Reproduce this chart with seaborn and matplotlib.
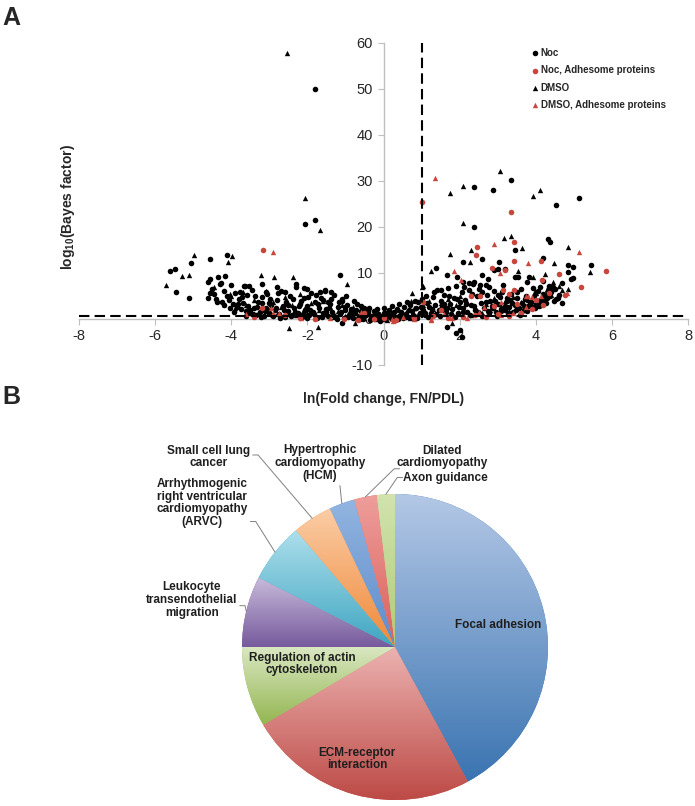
import numpy as np
import matplotlib
matplotlib.use('Agg')
import matplotlib.pyplot as plt
import seaborn as sns
from matplotlib.colors import LinearSegmentedColormap

sns.set_style('white')
plt.rcParams['font.family'] = ['Liberation Sans', 'DejaVu Sans']
plt.rcParams['mathtext.fontset'] = 'custom'
plt.rcParams['mathtext.rm'] = 'Liberation Sans'
plt.rcParams['mathtext.bf'] = 'Liberation Sans:bold'
plt.rcParams['axes.unicode_minus'] = False

# ---- panel A data: (ln fold change, log10 Bayes factor) ----
noc_pts = [
    (-1.79, 50.0), (-2.05, 20.6), (-1.81, 21.5), (-4.56, 13.0), (-4.12, 13.9), (-5.07, 12.1),
    (-5.49, 10.9), (-5.6, 10.4), (-5.45, 5.9), (-5.11, 4.6), (-4.57, 8.7), (-4.35, 9.1),
    (-4.16, 9.3), (-4.26, 7.8), (-3.66, 7.2), (-3.53, 7.2), (-3.78, 5.9), (-3.1, 5.9),
    (-2.79, 7.0), (-2.29, 7.6), (-2.1, 6.7), (-4.57, 5.6), (-4.6, 4.6), (-4.37, 3.7),
    (-4.2, 3.0), (-3.2, 7.6), (-1.13, 9.6), (-1.66, 5.9), (-1.53, 6.1), (-1.39, 5.9),
    (-1.45, 3.7), (-1.08, 4.3), (-2.0, 6.5), (-1.1, -0.8),
    (2.39, 28.6), (2.87, 28.0), (3.36, 30.2), (4.53, 24.8), (5.13, 26.3), (2.37, 20.0),
    (3.45, 15.0), (4.32, 17.4), (4.37, 16.7), (4.2, 13.2), (5.45, 11.7), (4.86, 11.7),
    (4.97, 11.3), (4.84, 10.2), (4.97, 8.9), (4.93, 8.6), (4.68, 3.5), (3.76, 8.0),
    (3.82, 9.1), (4.2, 8.3), (4.35, 6.7), (4.45, 6.9), (4.3, 5.4), (4.53, 4.3),
    (4.16, 3.7), (4.24, 5.2), (1.68, 9.6), (1.37, 11.0), (2.1, 12.4), (2.58, 13.0),
    (3.03, 12.4), (3.53, 9.1), (2.58, 9.6), (3.0, 10.9), (2.74, 8.7), (1.94, 9.1),
    (2.1, 8.0), (2.24, 7.8), (2.39, 8.0), (2.53, 7.4), (2.76, 7.0), (3.0, 5.2),
    (3.24, 4.6), (3.45, 9.1), (3.18, 10.8), (2.89, 10.7), (1.68, -1.7), (2.0, -2.4),
    (2.05, -3.9), (1.9, -3.0),
    (-4.6, 8.1), (-4.5, 6.6), (-4.45, 5.4), (-4.4, 4.3), (-4.3, 7.7), (-4.25, 3.6),
    (-4.2, 6.1), (-4.1, 5.0), (-4.05, 4.1), (-4.0, 7.4), (-3.95, 3.2), (-3.9, 5.6),
    (-3.85, 2.6), (-3.8, 4.4), (-3.75, 2.1), (-3.7, 3.5), (-3.65, 7.2), (-3.6, 1.8),
    (-3.55, 2.9), (-3.5, 1.2), (-3.45, 6.3), (-3.4, 2.3), (-3.35, 0.9), (-3.3, 3.6),
    (-3.25, 1.6), (-3.2, 4.7), (-3.15, 0.7), (-3.1, 2.5), (-3.05, 5.5), (-3.0, 1.3),
    (-2.95, 3.1), (-2.9, 0.6), (-2.85, 2.0), (-2.8, 4.2), (-2.75, 1.1), (-2.7, 6.0),
    (-2.65, 2.8), (-2.6, 0.5), (-2.55, 3.7), (-2.5, 1.7), (-2.45, 5.1), (-2.4, 0.8),
    (-2.35, 2.4), (-2.3, 7.0), (-2.25, 1.3), (-2.2, 3.3), (-2.15, 0.4), (-2.1, 4.5),
    (-2.05, 1.9), (-2.0, 2.9), (-1.95, 0.9), (-1.9, 5.6), (-1.85, 1.5), (-1.8, 3.8),
    (-1.75, 0.3), (-1.7, 2.5), (-1.65, 4.6), (-1.6, 1.2), (-1.55, 6.3), (-1.5, 2.1),
    (-1.45, 0.6), (-1.4, 3.2), (-1.35, 1.6), (-1.3, 5.2), (-1.25, 0.5), (-1.2, 2.6),
    (-1.15, 1.1), (-1.1, 4.0), (-1.05, 0.3), (-1.0, 1.9), (-0.95, 3.0), (-0.9, 0.8),
    (-0.85, 2.2), (-0.8, 0.2), (-0.75, 1.4), (-0.7, 3.3), (-0.65, 0.6), (-0.6, 1.7),
    (-0.55, 0.1), (-0.5, 2.4), (-0.45, 0.9), (-0.4, 1.3), (-0.35, -0.2), (-0.3, 0.7),
    (-0.25, 1.8), (-0.2, 0.2), (-0.15, 1.0), (-0.1, -0.4), (-0.05, 0.5), (0.0, 1.4),
    (0.05, 0.1), (0.1, 0.8), (0.15, 1.9), (0.2, 0.3), (0.25, 1.2), (0.3, -0.3),
    (0.35, 2.1), (0.4, 0.6), (0.45, 1.5), (0.5, 0.2), (0.55, 2.6), (0.6, 1.0),
    (0.65, 0.4), (0.7, 3.0), (0.75, 1.7), (0.8, 0.7), (0.85, 2.3), (0.9, 3.8),
    (0.95, 1.2), (1.0, 4.3), (1.05, 2.0), (1.1, 0.9), (1.15, 3.4), (1.2, 2.6),
    (1.25, 1.4), (1.3, 4.8), (1.35, 3.0), (1.4, 6.2), (1.45, 1.9), (1.5, 3.9),
    (1.55, 2.7), (1.6, 5.3), (1.65, 1.5), (1.7, 6.8), (1.75, 3.3), (1.8, 2.2),
    (1.85, 4.6), (1.9, 7.1), (1.95, 1.3), (2.0, 3.7), (2.05, 5.8), (2.1, 2.4),
    (2.15, 4.2), (2.2, 1.6), (2.25, 6.4), (2.3, 3.1), (2.35, 7.7), (2.4, 2.0),
    (2.45, 4.9), (2.5, 1.2), (2.55, 3.5), (2.6, 5.9), (2.65, 2.5), (2.7, 7.5),
    (2.75, 1.8), (2.8, 4.0), (2.85, 2.9), (2.9, 6.1), (2.95, 1.5), (3.0, 3.3),
    (3.05, 4.8), (3.1, 2.2), (3.15, 7.3), (3.2, 1.9), (3.25, 3.9), (3.3, 2.7),
    (3.35, 5.4), (3.4, 1.6), (3.45, 3.0), (3.5, 4.5), (3.55, 2.3), (3.6, 6.6),
    (3.65, 3.4), (3.7, 2.0), (3.75, 5.0), (3.8, 2.9), (3.85, 3.8), (3.9, 2.6),
    (3.95, 4.9), (4.0, 3.3), (4.05, 6.0), (4.1, 4.2), (4.15, 3.0), (4.2, 5.4),
    (4.3, 4.6), (4.35, 7.2), (4.4, 5.8), (4.5, 6.5), (4.6, 5.2), (4.7, 7.9),
    (-3.62, 0.6), (-3.52, 2.0), (-3.42, 1.0), (-3.32, 2.6), (-3.22, 0.4), (-3.12, 1.8),
    (-3.02, 3.4), (-2.92, 0.9), (-2.82, 2.4), (-2.72, 0.3), (-2.62, 1.9), (-2.52, 3.0),
    (-2.42, 0.6), (-2.32, 1.6), (-2.22, 2.8), (-2.12, 1.1), (-2.02, 0.2), (-1.92, 2.0),
    (-1.82, 1.0), (-1.72, 3.2), (-1.62, 0.5), (-1.52, 1.5), (-1.42, 2.3), (-1.32, 0.9),
    (-1.22, 0.1), (-1.12, 1.6), (-1.02, 2.6), (-0.92, 0.4), (-0.82, 1.2), (-0.72, 2.0),
    (-0.62, 0.0), (-0.52, 0.9), (-0.42, 1.7), (-0.32, 0.3), (-0.22, 1.1), (-0.12, 0.6),
    (-0.02, -0.1), (0.08, 1.2), (0.18, 0.5), (0.28, 1.6), (0.38, 0.0), (0.48, 1.1),
    (0.58, 0.5), (0.68, 1.9), (0.78, 0.9), (0.88, 0.3), (0.98, 2.6), (1.08, 1.4),
    (1.18, 0.5), (1.28, 2.2), (1.38, 1.1), (1.48, 0.6), (1.58, 3.2), (1.68, 2.3),
    (1.78, 1.1), (1.88, 0.5), (1.98, 2.6), (2.08, 1.5), (2.18, 3.3), (2.28, 0.8),
    (2.38, 2.8), (2.48, 1.6), (2.58, 0.7), (2.68, 3.6), (2.78, 1.4), (2.88, 2.3),
    (2.98, 0.6), (3.08, 1.7), (3.18, 2.9), (3.28, 1.2), (3.38, 3.5), (3.48, 1.9),
    (3.58, 0.9), (3.68, 2.8), (3.78, 1.7), (3.88, 3.6), (3.98, 2.4), (4.08, 2.9),
    (4.18, 4.0), (4.28, 3.4), (4.38, 4.9), (4.48, 3.9), (4.58, 4.6),
    (1.12, 4.9), (1.32, 5.8), (1.52, 6.3), (1.72, 5.1), (1.92, 4.4), (2.12, 6.9),
    (2.32, 5.4), (2.52, 6.6), (2.72, 5.3), (2.92, 4.0), (3.12, 5.9), (3.32, 4.2),
    (3.52, 5.8), (3.72, 4.3), (3.92, 6.8), (4.12, 7.0),
    (-3.92, 1.5), (-4.02, 2.3), (-3.82, 3.3), (-3.72, 4.8), (-3.58, 5.3), (-3.38, 5.0),
    (-3.18, 3.4), (-2.98, 4.4), (-2.78, 5.6), (-2.58, 5.8), (-2.38, 4.3), (-2.18, 4.0),
    (-1.98, 4.8), (-1.78, 5.2), (-1.58, 4.1), (-1.38, 4.4), (-1.18, 3.6), (-0.98, 5.0),
    (-0.78, 3.9), (-0.58, 2.9), (-0.38, 2.4), (-0.18, 2.2), (0.02, 2.4), (0.22, 2.9),
    (0.42, 3.3), (0.62, 3.6), (0.82, 4.0),
]

dmso_pts = [
    (-2.53, 57.8), (-2.05, 26.3), (-1.66, 19.3), (-4.97, 14.0), (-3.97, 13.7), (-4.08, 12.4),
    (-5.71, 7.4), (-5.29, 9.3), (-5.1, 9.6), (-3.21, 9.6), (-2.87, 9.1), (-2.37, 9.1),
    (-4.45, 7.0), (-4.03, 5.4), (-2.47, -2.0), (-1.71, -1.7), (-0.95, 7.6), (0.71, 3.9),
    (0.76, 5.7), (1.05, 7.2),
    (1.76, 27.4), (2.1, 28.9), (3.05, 32.1), (3.92, 26.7), (4.1, 28.0), (2.1, 20.9),
    (1.74, 14.1), (2.31, 15.0), (3.16, 17.6), (3.34, 18.0), (3.65, 15.4), (4.47, 12.2),
    (4.84, 15.6), (5.43, 10.3), (4.84, 6.5), (4.45, 8.0), (4.24, 9.8), (1.26, 10.4),
    (3.53, 10.4), (3.92, 9.1), (4.68, 6.3), (3.97, 6.1), (1.8, -0.9), (2.26, 12.4),
    (-4.2, 3.3), (-4.0, 4.9), (-3.9, 2.4), (-3.7, 5.8), (-3.6, 3.0), (-3.5, 2.2),
    (-3.4, 4.1), (-3.3, 1.4), (-3.2, 2.8), (-3.1, 6.1), (-3.0, 1.9), (-2.9, 3.6),
    (-2.8, 1.0), (-2.7, 2.6), (-2.6, 4.7), (-2.5, 1.5), (-2.4, 3.0), (-2.3, 0.9),
    (-2.2, 5.4), (-2.1, 2.2), (-2.0, 1.2), (-1.9, 3.4), (-1.8, 0.7), (-1.7, 2.0),
    (-1.6, 3.9), (-1.5, 1.0), (-1.4, 2.7), (-1.3, 0.4), (-1.2, 1.8), (-1.1, 3.1),
    (-1.0, 0.6), (-0.9, 1.5), (-0.8, 2.6), (-0.7, 0.4), (-0.6, 1.2), (-0.5, 0.3),
    (-0.4, 1.9), (-0.3, 0.6), (-0.2, -0.1), (-0.1, 1.1), (0.0, 0.4), (0.1, -0.2),
    (0.2, 1.3), (0.3, 0.5), (0.4, 2.0), (0.5, 0.8), (0.6, 1.6), (0.7, 0.3),
    (0.8, 2.5), (0.9, 1.0), (1.0, 6.9), (1.05, 3.0), (1.1, 1.6), (1.2, 4.0),
    (1.3, 2.2), (1.4, 1.0), (1.5, 3.4), (1.6, 2.0), (1.7, 4.4), (1.8, 1.2),
    (1.9, 3.0), (2.0, 5.0), (2.1, 1.8), (2.2, 3.8), (2.3, 0.9), (2.4, 2.6),
    (2.5, 5.2), (2.6, 1.4), (2.7, 3.2), (2.8, 2.0), (2.9, 4.5), (3.0, 1.1),
    (3.1, 2.8), (3.2, 3.9), (3.3, 1.7), (3.4, 4.8), (3.5, 2.5), (3.6, 3.6),
    (3.7, 1.9), (3.8, 4.2), (3.9, 3.0), (4.0, 5.6), (4.1, 3.6), (4.2, 4.6),
    (4.3, 6.6), (4.4, 5.3), (4.6, 7.1), (-0.75, -0.8),
]

noc_adh_pts = [
    (-3.16, 15.0), (-3.2, 2.4), (-0.5, 1.3), (1.02, 25.4), (3.36, 23.3), (2.45, 15.6),
    (2.42, 13.9), (4.13, 12.6), (3.42, 16.7), (3.42, 12.6), (2.86, 11.0), (3.2, 10.7),
    (3.13, 6.3), (3.42, 6.3), (3.3, 5.4), (2.3, 4.9), (2.53, 5.0), (4.16, 8.5),
    (4.6, 9.8), (5.18, 7.0), (5.84, 10.4), (4.77, 5.2), (4.0, 4.1), (4.35, 5.6),
    (-3.4, 0.5), (-2.6, 0.8), (-2.2, 0.3), (-1.79, 0.0), (-1.05, 0.0), (-0.66, -0.2),
    (-0.26, 0.0), (0.0, 0.2), (0.34, -0.2), (0.8, 0.2), (1.3, 0.6), (1.7, 0.3),
    (2.1, 0.5), (2.4, 0.9), (2.7, 0.4), (3.0, 1.0), (3.3, 0.6), (3.6, 1.4),
    (3.9, 2.2), (4.2, 3.0), (1.5, 1.9), (2.9, 2.9), (3.5, 3.2), (1.03, 3.7),
]

dmso_adh_pts = [
    (-2.9, 14.6), (-2.95, 2.4), (-2.9, 1.3), (-2.74, 1.3), (-2.18, 0.2), (-0.58, 1.5),
    (0.24, -0.4), (0.22, -0.1), (0.79, 0.0), (1.26, 0.0), (1.34, 30.7), (2.89, 16.3),
    (3.79, 12.2), (1.85, 10.4), (3.05, 10.0), (2.03, 8.5), (3.08, 3.7), (2.63, 2.6),
    (1.26, -0.2), (1.8, 0.2), (2.2, 0.2), (3.08, 0.9), (3.4, 1.2), (3.74, 2.6),
    (3.79, 5.0), (5.13, 14.6), (3.75, 5.0), (3.9, 4.8), (4.15, 5.0), (4.83, 5.6),
    (-3.6, 1.0), (-1.4, 0.3), (0.5, 0.4), (1.6, 1.0), (2.5, 1.6),
]

fc_cut = 1.0        # vertical threshold
bf_cut = 0.6        # horizontal threshold

# ---- panel B data ----
pathways = ['Focal adhesion', 'ECM-receptor\ninteraction', 'Regulation of actin\ncytoskeleton',
            'Leukocyte\ntransendothelial\nmigration',
            'Arrhythmogenic\nright ventricular\ncardiomyopathy\n(ARVC)',
            'Small cell lung\ncancer', 'Hypertrophic\ncardiomyopathy\n(HCM)',
            'Dilated\ncardiomyopathy', 'Axon guidance']
shares = [42.1, 24.4, 8.5, 7.5, 6.3, 4.2, 2.7, 2.4, 1.9]
shades = [('#3A74B1', '#B4C8E6'), ('#BD4A46', '#ECB2B0'), ('#93B650', '#DAE7C2'),
          ('#765A9C', '#C8BBDB'), ('#3EA5C1', '#ADDFEC'), ('#EF8838', '#FBCDA6'),
          ('#5C8CCB', '#93B5E0'), ('#D9605C', '#EE9E9B'), ('#AFCB78', '#D2E3AE')]

red = '#C9463D'

fig = plt.figure(figsize=(6.95, 8.06), dpi=100)

# ================= panel A =================
ax = fig.add_axes([79 / 695, 1 - 365 / 806, 609 / 695, 322 / 806])
series = [(noc_pts, 'o', 'black', 'Noc', 16),
          (dmso_pts, '^', 'black', 'DMSO', 15),
          (noc_adh_pts, 'o', red, 'Noc, Adhesome proteins', 16),
          (dmso_adh_pts, '^', red, 'DMSO, Adhesome proteins', 15)]
for pts, mk, col, lab, sz in series:
    xs, ys = zip(*pts)
    sns.scatterplot(x=list(xs), y=list(ys), marker=mk, color=col, s=sz, linewidth=0,
                    ax=ax, label=lab, zorder=3)

ax.axvline(fc_cut, color='black', lw=1.5, ls=(0, (5, 2.5)), zorder=4)
ax.axhline(bf_cut, color='black', lw=1.5, ls=(0, (5, 2.5)), zorder=4)

ax.set_xlim(-8, 8)
ax.set_ylim(-10, 60)
ax.set_xticks(range(-8, 9, 2))
ax.set_yticks(range(-10, 61, 10))
for side in ['top', 'right']:
    ax.spines[side].set_visible(False)
ax.spines['left'].set_position(('data', 0))
ax.spines['bottom'].set_position(('data', 0))
for side in ['left', 'bottom']:
    ax.spines[side].set_color('#BFBFBF')
    ax.spines[side].set_linewidth(1.0)
ax.tick_params(axis='both', direction='out', length=4, width=0.8, color='#BFBFBF',
               labelsize=10.5, labelcolor='#262626', left=True, bottom=True)
ax.grid(False)

ax.set_ylabel(r'log$_{\mathbf{10}}$(Bayes factor)', fontsize=10, fontweight='bold')
ax.yaxis.set_label_coords(-0.004, 0.49)
ax.set_xlabel('ln(Fold change, FN/PDL)', fontsize=10, fontweight='bold')
ax.xaxis.set_label_coords(0.5, -0.085)

h, l = ax.get_legend_handles_labels()
order = [0, 2, 1, 3]
ax.legend([h[i] for i in order], [l[i] for i in order], loc='upper left',
          bbox_to_anchor=(533 / 695, 1 - 48 / 806), bbox_transform=fig.transFigure,
          frameon=False, prop={'weight': 'bold', 'size': 7}, handlelength=0.5,
          handletextpad=0.3, labelspacing=0.75, borderpad=0, borderaxespad=0)

fig.text(0.004, 0.993, 'A', fontsize=18, fontweight='bold', va='top')
fig.text(0.004, 0.522, 'B', fontsize=18, fontweight='bold', va='top')

# ================= panel B =================
ax2 = fig.add_axes([0, 0, 1, 395 / 806])
wedges, _ = ax2.pie(shares, startangle=90, counterclock=False, radius=1, center=(0, 0),
                    wedgeprops=dict(linewidth=0))
grad = np.linspace(0, 1, 256).reshape(-1, 1)
for w, (dark, light) in zip(wedges, shades):
    w.set_facecolor(dark)
    th = np.radians(np.linspace(w.theta1, w.theta2, 90))
    bx = np.concatenate([[0], np.cos(th)])
    by = np.concatenate([[0], np.sin(th)])
    cmap = LinearSegmentedColormap.from_list('g', [dark, light])
    im = ax2.imshow(grad, cmap=cmap, origin='lower', aspect='auto', interpolation='bilinear',
                    extent=[bx.min(), bx.max(), by.min(), by.max()], zorder=2)
    im.set_clip_path(w)

txt = dict(fontsize=8.5, fontweight='bold', color='#1F1F1F', ha='center', va='center',
           linespacing=1.1, zorder=5)
inner_pos = {0: (0.673, 0.144), 1: (-0.248, -0.732), 2: (-0.608, -0.111)}
for i, (x, y) in inner_pos.items():
    ax2.text(x, y, pathways[i], **txt)

# outer labels: text centre, leader start, stub direction
outer_pos = {3: ((-1.327, 0.307), (-1.015, 0.27), 1),
             4: ((-1.261, 0.941), (-0.945, 0.82), 1),
             5: ((-1.216, 1.242), (-0.93, 1.255), 1),
             6: ((-0.49, 1.203), (-0.36, 1.055), 0),
             7: ((0.307, 1.242), (0.03, 1.165), -1),
             8: ((0.327, 1.105), (0.05, 1.108), -1)}
for i, (tp, sp, d) in outer_pos.items():
    w = wedges[i]
    mid = np.radians((w.theta1 + w.theta2) / 2)
    ex, ey = np.cos(mid), np.sin(mid)
    ax2.text(tp[0], tp[1], pathways[i], **txt)
    ax2.plot([sp[0], sp[0] + 0.035 * d, ex], [sp[1], sp[1], ey], color='#808080', lw=0.7,
             zorder=4, clip_on=False)

ax2.set_xlim(-395 / 153, 300 / 153)
ax2.set_ylim(-159 / 153, 236 / 153)
ax2.set_aspect('auto')
ax2.axis('off')

fig.savefig('out.png', dpi=100)
